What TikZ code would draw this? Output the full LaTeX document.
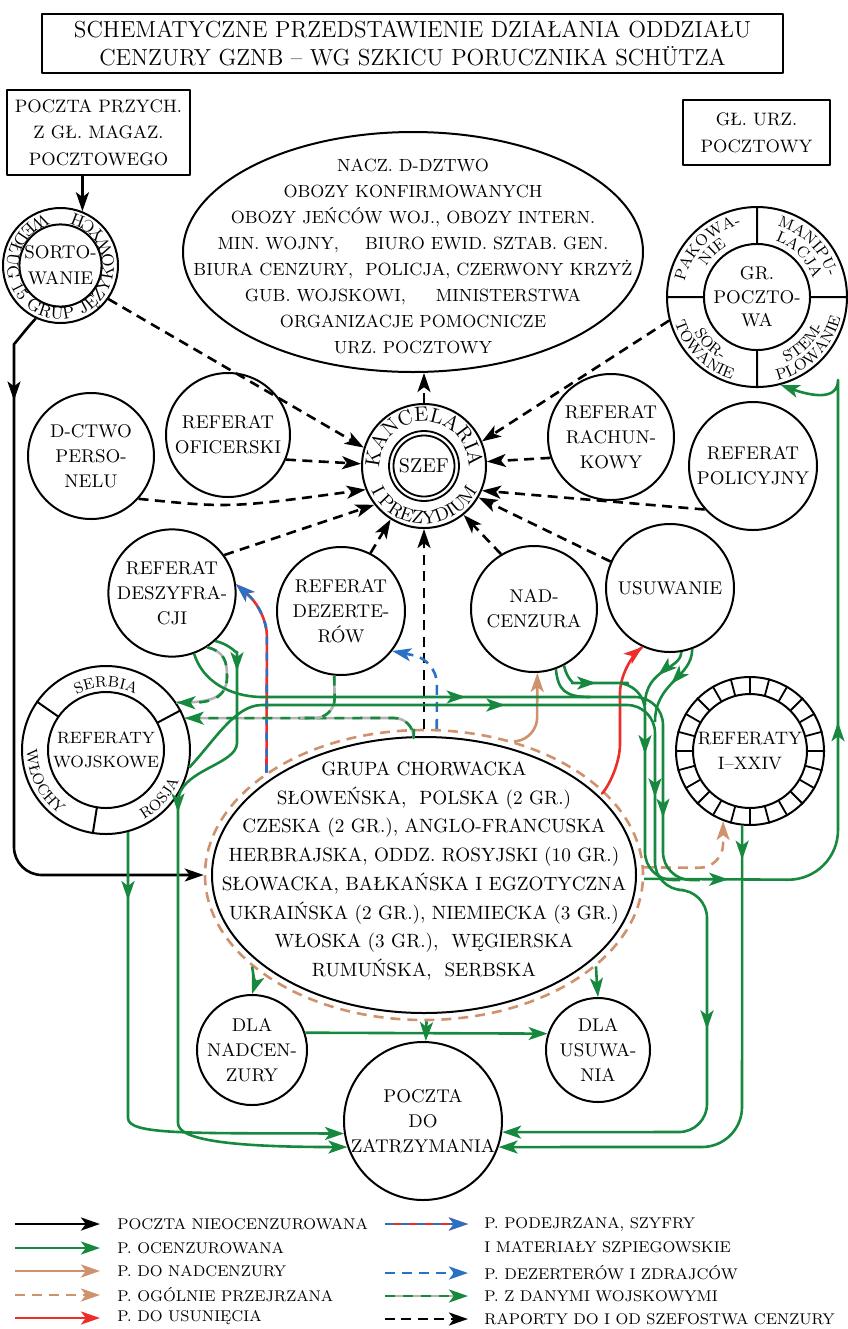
\documentclass[tikz,border=0pt]{standalone}
\usepackage{fontspec}
\usetikzlibrary{arrows.meta,decorations.text,decorations.markings,calc,shapes.geometric}
\definecolor{cgreen}{RGB}{22,137,62}
\definecolor{ctan}{RGB}{207,146,108}
\definecolor{cred}{RGB}{236,45,42}
\definecolor{cblue}{RGB}{42,112,196}
\definecolor{cgray}{RGB}{178,178,178}
\newcommand\fsz[2]{\fontsize{#1}{#2}\selectfont}
\newcommand\arctext[8]{%
  \begin{scope}[shift={(#1,#2)},y=0.5pt]
    \path[decorate,decoration={text along path,text align={#8},
      text={|\fsz{#6}{#6}|#7}}]
      (#4:#3) arc[start angle=#4,end angle=#5,radius=#3];
  \end{scope}}
\tikzset{
  tp/.tip={Stealth[length=9.5pt,width=6.5pt,inset=2.4pt]},
  box/.style={draw,line width=1pt,align=center,inner sep=0pt},
  ring/.style={circle,draw,line width=1pt,inner sep=0pt},
  cnode/.style={circle,draw,line width=1pt,inner sep=0pt,align=center,font=\fsz{9.2}{12.5}},
  txt/.style={align=center,inner sep=0pt},
  ln/.style={line width=1.3pt},
  grn/.style={ln,cgreen,rounded corners=14pt},
  ma/.style={postaction={decorate,decoration={markings,mark=at position #1 with {\arrow{tp}}}}},
  rep/.style={ln,black,dash pattern=on 5pt off 3.2pt,-tp},
  tdash/.style={ln,ctan,dash pattern=on 5pt off 3.5pt},
  lg/.style={anchor=west,inner sep=0pt,font=\fsz{7.75}{10}},
}
\begin{document}
\begin{tikzpicture}[x=0.5pt,y=-0.5pt,line join=round]
\useasboundingbox (0,0) rectangle (847,1329);

% ---------- boxes ----------
\node[box,minimum width=370.5pt,minimum height=29.5pt,font=\fsz{11.6}{14}] (title) at (412.5,43.5)
  {SCHEMATYCZNE PRZEDSTAWIENIE DZIAŁANIA ODDZIAŁU\\CENZURY GZNB – WG SZKICU PORUCZNIKA SCHÜTZA};
\node[box,minimum width=91.5pt,minimum height=42.5pt,font=\fsz{9}{13.2}] (inbox) at (98.5,132.5)
  {POCZTA PRZYCH.\\Z GŁ. MAGAZ.\\POCZTOWEGO};
\node[box,minimum width=73.5pt,minimum height=32.5pt,font=\fsz{9}{13.5}] (glurz) at (756.5,132.5)
  {GŁ. URZ.\\POCZTOWY};

% ---------- sortowanie ring ----------
\node[ring,minimum size=57.5pt] (sort) at (60.5,265.5) {};
\node[cnode,minimum size=38pt,font=\fsz{9.2}{13}] (sorti) at (sort.center) {SORTO-\\WANIE};
\arctext{60.5}{265.5}{53.5}{106}{436}{8.5}{WEDŁUG 15 GRUP JĘZYKOWYCH}{fit to path}

% ---------- top ellipse ----------
\node[ellipse,draw,line width=1pt,minimum width=230pt,minimum height=120pt,inner sep=0pt] (top) at (413,252) {};
\node[txt,font=\fsz{8.8}{13}] (toptxt) at (413,256) {NACZ. D-DZTWO\\OBOZY KONFIRMOWANYCH\\OBOZY JEŃCÓW WOJ., OBOZY INTERN.\\MIN. WOJNY,\hspace{10pt} BIURO EWID. SZTAB. GEN.\\BIURA CENZURY,\ \ POLICJA, CZERWONY KRZYŻ\\GUB. WOJSKOWI,\hspace{12pt} MINISTERSTWA\\ORGANIZACJE POMOCNICZE\\URZ. POCZTOWY};

% ---------- kancelaria ----------
\node[ring,minimum size=62pt] (kanc) at (424,466) {};
\node[ring,line width=0.9pt,minimum size=35pt] (szef) at (kanc.center) {};
\node[ring,line width=0.9pt,minimum size=30.5pt,font=\fsz{10}{12}] (szefi) at (kanc.center) {SZEF};
\arctext{424}{466}{44.5}{200}{-20}{10.3}{KANCELARIA}{center}
\arctext{424}{466}{58}{200}{340}{9.3}{I PREZYDIUM}{center}

% ---------- gr. pocztowa ----------
\node[ring,minimum size=90pt] (grp) at (757,297) {};
\node[cnode,minimum size=53pt,font=\fsz{9.2}{11.8}] (grpi) at (grp.center) {GR.\\POCZTO-\\WA};
\foreach \a in {0,90,180,270} \draw[line width=1pt] ($(grp.center)!0.589!(grp.\a)$) -- (grp.\a);
\arctext{757}{297}{74}{176}{94}{7.8}{PAKOWA-}{center}
\arctext{757}{297}{59}{172}{98}{7.8}{NIE}{center}
\arctext{757}{297}{74}{86}{4}{7.8}{MANIPU-}{center}
\arctext{757}{297}{59}{82}{8}{7.8}{LACJA}{center}
\arctext{757}{297}{72}{190}{260}{7.8}{SOR-}{center}
\arctext{757}{297}{86}{184}{266}{7.8}{TOWANIE}{center}
\arctext{757}{297}{72}{280}{350}{7.8}{STEM-}{center}
\arctext{757}{297}{86}{274}{356}{7.8}{PLOWANIE}{center}

% ---------- circles ----------
\node[cnode,minimum size=63pt] (dctwo) at (91,456) {D-CTWO\\PERSO-\\NELU};
\node[cnode,minimum size=62pt] (ofic) at (228,435) {REFERAT\\OFICERSKI};
\node[cnode,minimum size=63pt] (rach) at (611,437) {REFERAT\\RACHUN-\\KOWY};
\node[cnode,minimum size=64pt] (pol) at (753,466) {REFERAT\\POLICYJNY};
\node[cnode,minimum size=62pt] (desz) at (172,593) {REFERAT\\DESZYFRA-\\CJI};
\node[cnode,minimum size=64pt] (dez) at (341,611) {REFERAT\\DEZERTE-\\RÓW};
\node[cnode,minimum size=63pt] (nad) at (534,609) {NAD-\\CENZURA};
\node[cnode,minimum size=64pt] (usu) at (670,588) {USUWANIE};

% ---------- referaty wojskowe ----------
\node[ring,minimum size=84pt] (woj) at (106,750) {};
\node[cnode,minimum size=58pt,font=\fsz{8.2}{12}] (woji) at (woj.center) {REFERATY\\WOJSKOWE};
\foreach \a in {145,28,261} \draw[line width=1pt] ($(woj.center)!0.69!(woj.\a)$) -- (woj.\a);
\arctext{106}{750}{63}{122}{58}{7.6}{SERBIA}{center}
\arctext{106}{750}{79}{-68}{-16}{7.6}{ROSJA}{center}
\arctext{106}{750}{79}{174}{240}{7.6}{WŁOCHY}{center}

% ---------- referaty I-XXIV ----------
\node[ring,minimum size=74pt] (rxx) at (750,751) {};
\node[ring,minimum size=57pt,align=center,font=\fsz{9}{12.5}] (rxxi) at (rxx.center) {REFERATY\\I–XXIV};
\foreach \a in {0,15,...,345} \draw[line width=0.9pt] ($(rxx.center)!0.77!(rxx.\a)$) -- (rxx.\a);

% ---------- grupa chorwacka ----------
\node[ellipse,draw,line width=1pt,minimum width=212pt,minimum height=138pt,inner sep=0pt] (chor) at (424,875) {};
\node[ellipse,tdash,draw,minimum width=219pt,minimum height=145pt,inner sep=0pt] (chd) at (424,875) {};
\node[txt,font=\fsz{9.6}{14.35}] (chortxt) at (424,871) {GRUPA CHORWACKA\\SŁOWEŃSKA,\ \ POLSKA (2 GR.)\\CZESKA (2 GR.), ANGLO-FRANCUSKA\\HERBRAJSKA, ODDZ. ROSYJSKI (10 GR.)\\SŁOWACKA, BAŁKAŃSKA I EGZOTYCZNA\\UKRAIŃSKA (2 GR.), NIEMIECKA (3 GR.)\\WŁOSKA (3 GR.),\ \ WĘGIERSKA\\RUMUŃSKA,\ \ SERBSKA};

% ---------- bottom circles ----------
\node[cnode,minimum size=52pt] (dnc) at (252,1050) {DLA\\NADCEN-\\ZURY};
\node[cnode,minimum size=52pt] (du) at (598,1050) {DLA\\USUWA-\\NIA};
\node[cnode,minimum size=79pt] (poc) at (423,1121) {POCZTA\\DO\\ZATRZYMANIA};

% ---------- reports (black dashed) ----------
\draw[rep] (sort.-35) -- (kanc.163);
\draw[rep] (kanc.90) -- (kanc.90 |- top.south);
\draw[rep] (grp.195) -- (kanc.23);
\draw[rep] (ofic.-23) -- (kanc.178);
\draw[rep] (dctwo.-42) .. controls (230,508) .. (kanc.202);
\draw[rep] (rach.199) -- (kanc.4);
\draw[rep] (pol.222) -- (kanc.-23);
\draw[rep] (desz.36) -- (kanc.218);
\draw[rep] (dez.63) -- (kanc.238);
\draw[rep] (chd.90) -- (kanc.270);
\draw[rep] (nad.121) -- (kanc.-51);
\draw[rep] (usu.156) -- (kanc.-30);

% ---------- uncensored mail (black) ----------
\draw[ln,-tp] ($(inbox.south)+(-16,0)$) -- (sort.68);
\draw[ln,ma=45pt,-tp,rounded corners=14pt] (sort.245) .. controls (25,330) and (14,345) .. (14,372) -- (14,875) -- (chd.180);

% ---------- tan / red / blue ----------
\draw[ln,ctan,-tp,rounded corners=10pt] (chd.56) -- (537,738) -- (nad.-87);
\draw[ln,cred,-tp,rounded corners=14pt] (chd.25) -- (620,772) -- (620,665) -- (usu.-115);
\draw[ln,cred,-tp,rounded corners=12pt] (chd.147.5) -- (267,612) -- (desz.8);
\draw[ln,cblue,dash pattern=on 4pt off 4pt,-tp,rounded corners=12pt] (chd.147.5) -- (267,612) -- (desz.8);
\draw[ln,cblue,dash pattern=on 5pt off 3.5pt,-tp,rounded corners=12pt] (chd.85) -- (437,660) -- (dez.-38);
\draw[tdash,-tp,rounded corners=12pt] (chd.2) -- (723,868) -- (rxx.-111);

% ---------- military data (gray/green) ----------
\draw[ln,cgray,rounded corners=10pt] (chd.94) -- (414,718) -- (woj.22);
\draw[ln,cgreen,dash pattern=on 5pt off 4pt,-tp,rounded corners=10pt] (chd.94) -- (414,718) -- (woj.22);
\draw[ln,cgray,rounded corners=10pt] (dez.-96) -- (335,718) -- (300,718);
\draw[ln,cgreen,dash pattern=on 5pt off 4pt,rounded corners=10pt] (dez.-96) -- (335,718) -- (300,718);
\draw[ln,cgray] (desz.-57) .. controls (225,652) and (227,662) .. (227,677) .. controls (227,698) and (210,703) .. (woj.34);
\draw[ln,cgreen,dash pattern=on 5pt off 4pt,-tp] (desz.-57) .. controls (225,652) and (227,662) .. (227,677) .. controls (227,698) and (210,703) .. (woj.34);

% ---------- censored mail (green) ----------
\draw[grn,ma=145pt,ma=298pt] (desz.-70) .. controls (205,688) and (240,697) .. (290,697) -- (663,697) -- (663,880) -- (700,880);
\draw[grn,ma=171pt,ma=286pt,ma=420pt,-tp] (woj.-12) .. controls (215,740) and (235,705) .. (290,705) -- (655,705) -- (655,890) -- (707,890) -- (707,1132) -- (poc.-8);
\draw[grn,ma=22pt,ma=87pt] (nad.-62) .. controls (567,680) and (575,683) .. (600,683) -- (645,683) -- (645,880) -- (680,880);
\draw[grn] (nad.-70) .. controls (558,690) and (565,697) .. (590,697);
\draw[grn,ma=17pt] (usu.-80) .. controls (681,670) and (645,668) .. (645,705);
\draw[grn,ma=21pt] (usu.-70) .. controls (692,678) and (655,682) .. (655,722);
\draw[grn,rounded corners=25pt,ma=42pt,ma=165pt,-tp] (chd.-1.3) -- (838,880) -- (838,430) .. controls (838,405) and (800,392) .. (grp.-75);
\draw[grn,rounded corners=20pt,ma=17pt,-tp] (rxx.-96) -- (742,1147) -- (poc.-19);
\draw[grn,ma=34pt,-tp] (woj.-75) -- (128,1090) .. controls (128,1135) and (190,1133) .. (poc.189);
\draw[grn,ma=22pt,ma=128pt,-tp] (desz.-48) .. controls (232,645) and (237,655) .. (237,680) -- (237,715) .. controls (237,765) and (178,770) .. (178,830) -- (178,1095) .. controls (178,1140) and (230,1147) .. (poc.199);
\draw[grn,-tp] (chd.208) .. controls (255,985) .. (dnc.90);
\draw[grn,-tp] (chd.-28) .. controls (597,985) .. (du.90);
\draw[grn,-tp] (chd.-89) -- (poc.88);
\draw[grn,-tp] (dnc.18) -- (du.162);

% ---------- legend ----------
\draw[ln,-tp] (15,1224) -- (100,1224);
\node[lg] (l1) at (117,1224) {POCZTA NIEOCENZUROWANA};
\draw[ln,cgreen,-tp] (15,1248) -- (100,1248);
\node[lg] (l2) at (117,1248) {P. OCENZUROWANA};
\draw[ln,ctan,-tp] (15,1271) -- (100,1271);
\node[lg] (l3) at (117,1271) {P. DO NADCENZURY};
\draw[tdash,-tp] (15,1295) -- (100,1295);
\node[lg] (l4) at (117,1295) {P. OGÓLNIE PRZEJRZANA};
\draw[ln,cred,-tp] (15,1318) -- (100,1318);
\node[lg] (l5) at (117,1318) {P. DO USUNIĘCIA};

\draw[ln,cred,-tp] (385,1224) -- (468,1224);
\draw[ln,cblue,dash pattern=on 4pt off 4pt,-tp] (385,1224) -- (468,1224);
\node[lg] (r1) at (484,1224) {P. PODEJRZANA, SZYFRY};
\node[lg] (r1b) at (484,1247) {I MATERIAŁY SZPIEGOWSKIE};
\draw[ln,cblue,dash pattern=on 5pt off 3.5pt,-tp] (385,1273) -- (468,1273);
\node[lg] (r2) at (484,1273) {P. DEZERTERÓW I ZDRAJCÓW};
\draw[ln,cgray] (385,1296) -- (460,1296);
\draw[ln,cgreen,dash pattern=on 5pt off 4pt,-tp] (385,1296) -- (468,1296);
\node[lg] (r3) at (484,1296) {P. Z DANYMI WOJSKOWYMI};
\draw[rep] (385,1319) -- (468,1319);
\node[lg] (r4) at (484,1319) {RAPORTY DO I OD SZEFOSTWA CENZURY};
\end{tikzpicture}
\end{document}
